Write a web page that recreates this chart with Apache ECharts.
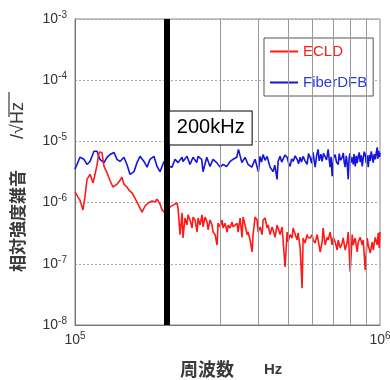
<!DOCTYPE html>
<html><head><meta charset="utf-8">
<script src="https://cdn.jsdelivr.net/npm/echarts@6/dist/echarts.min.js"></script>
<style>html,body{margin:0;padding:0;background:#fff}#c{width:390px;height:380px}</style>
</head><body><div id="c"></div>
<script>
// Frequencies in kHz, values in units of 1e-6 /sqrt(Hz)
const freqBlueK = [100,101.5,103.8,107.0,109.5,112.0,115.4,118.1,120.7,124.5,127.3,130.2,134.2,137.3,140.4,144.7,148.0,151.5,156.1,159.7,163.4,168.3,172.3,176.2,181.5,185.8,190.0,195.8,200,204,208,212.8,217.7,224.4,226,233,238.3,243.8,250.7,253.2,260.2,262.9,270.4,277.2,283.6,291.4,299,305.9,314.5,322.4,329.8,339.2,343.5,352.5,361.1,369.4,380,389.4,399.3,404.4,409,413.7,420,426.4,436.1,446.1,452,459.8,463.3,470.3,476,481.1,488,495.9,502,507.2,513,518.9,527,534.8,541,547,553,559.6,568,576.8,583,590,597,603.6,608,612.8,620,626.8,632,640,646.1,653,660.9,668,676.1,681,686.4,691,696.9,704,712.9,720,729.3,735,742,751.7,758,763,768.9,775,781,786.6,792,798,804,810.8,817,822,829.4,836,842,848.4,855,861,868,874.5,881,888,894.5,901,908,915.1,922,929,936,943.2,950,957,964.8,972,979.5,983,986.9,990,994.3,997,1000];
const valBlue = [3.5,4.2,5.5,5.1,4.2,4.7,6.9,6.9,5.1,4.5,5.5,6.1,6.6,5.1,4.7,5.5,4.2,2.9,3.2,4.5,5.7,4.7,3.8,5.1,5.7,3.9,3.2,4.7,4.2,3.9,3.8,5.1,4.5,5.5,4.7,5.7,4.2,5.5,4.5,5.7,5.1,3.2,5.5,3.9,5.1,4.5,3.8,4.2,3.9,4.7,5.1,5.5,7.4,4.5,5.5,4.2,3.8,5.1,3.2,5.7,4.6,6.1,4.9,5.7,3.8,3.2,4.1,2.4,4.7,5.7,4.6,4.5,6.0,5.5,4.4,3.9,5.2,4.7,5.8,5.1,4.3,5.5,4.6,5.7,4.8,4.2,6.3,5.5,4.4,6.6,4.9,3.8,5.9,7.4,4.8,6.2,4.7,6.4,6.9,5.0,7.4,5.2,3.8,5.6,2.7,5.4,6.1,4.6,4.2,6.3,4.9,5.5,6.5,4.6,3.8,5.8,4.3,2.4,5.3,6.4,4.5,5.5,4.2,6.2,3.9,5.8,4.4,5.7,6.6,4.6,5.9,3.9,5.4,6.8,6.1,4.4,5.9,3.8,6.0,4.8,6.9,6.6,4.5,6.2,5.1,6.5,8.0,5.2,5.5,7.0,7.4,5.6,6.5];
const freqRedK = [100,102.3,103.8,106.2,107.8,109.5,112.0,114.6,116.3,118.1,119.5,120.7,122.6,124.5,125.4,127.3,129.4,130.2,133.2,135.2,137.3,140.4,142.6,144.7,148.0,150.3,154.0,156.1,159.7,162.1,165.9,169.7,173.6,178.9,183.0,185.8,190.0,192.9,195.8,200,204.9,209.6,215.9,217.7,221.0,224.4,226.0,229.5,233.0,234.8,238.3,242.0,243.8,247.5,251.3,253.2,257.0,261.0,262.9,266.9,271.0,273.1,277.2,281.4,283.6,287.9,292.3,294.5,299.0,303.6,305.9,310.5,315.3,317.7,322.4,327.4,329.8,334.8,340.0,342.6,347.7,353.0,355.7,361.1,366.6,369.4,375.0,380.7,383.6,389.4,395.4,398.4,404.4,410.6,413.7,420.0,426.4,429.6,436.1,442.8,446.1,452.9,459.8,463.3,470.3,477.5,481.1,488.4,495.9,499.6,507.2,515.0,518.9,526.7,534.8,538.8,547.0,555.4,559.6,568.1,576.8,581.1,590.0,599.0,603.6,612.8,622.1,626.8,636.4,646.1,651.0,660.9,671.0,676.1,686.4,696.9,702.2,712.9,723.8,729.3,740.4,751.7,757.4,768.9,780.7,786.6,798.6,810.8,816.9,829.4,842.0,848.4,861.3,874.5,881.1,894.5,908.2,915.1,929.0,943.2,950.3,964.8,979.5,986.9,994.3,1000];
const valRed = [1.49,1.23,1.10,0.76,1.23,2.4,2.9,2.1,2.9,4.1,6.2,6.7,6.5,3.9,3.8,3.1,2.5,2.3,1.8,1.73,2.0,2.3,2.6,2.0,1.8,1.6,1.43,1.33,1.02,0.985,0.70,0.88,0.985,1.06,1.02,1.14,0.95,0.76,0.70,0.68,0.85,0.91,0.985,0.82,0.30,0.68,0.264,0.56,0.43,0.63,0.52,0.385,0.58,0.52,0.33,0.56,0.43,0.63,0.40,0.58,0.48,0.36,0.52,0.43,0.33,0.30,0.203,0.46,0.40,0.52,0.385,0.46,0.33,0.43,0.385,0.48,0.40,0.385,0.46,0.33,0.56,0.27,0.58,0.43,0.30,0.33,0.245,0.156,0.30,0.58,0.52,0.33,0.40,0.30,0.52,0.56,0.385,0.43,0.30,0.40,0.36,0.27,0.43,0.385,0.30,0.40,0.43,0.089,0.33,0.227,0.30,0.264,0.385,0.40,0.245,0.32,0.188,0.040,0.264,0.219,0.30,0.27,0.264,0.30,0.245,0.219,0.30,0.245,0.156,0.227,0.385,0.203,0.27,0.245,0.33,0.203,0.27,0.227,0.168,0.245,0.181,0.219,0.264,0.168,0.227,0.33,0.074,0.30,0.203,0.264,0.156,0.227,0.27,0.203,0.245,0.079,0.264,0.203,0.15,0.227,0.168,0.27,0.203,0.32,0.181,0.33];
const gridFreqsK = [200,300,400,500,600,700,800,900];
const markerFreqK = 200;
const markerLabel = '200kHz';
const seriesNames = ['ECLD','FiberDFB'];
const colors = ['#ff1a1a','#1414dc'];

const toData = (fk, v) => fk.map((f,i)=>[f*1e3, v[i]*1e-6]);
const supFmt = v => '{a|10}{b|' + Math.round(Math.log10(v)) + '}';
const rich = {a:{fontSize:14,color:'#333',fontFamily:'Liberation Sans'}, b:{fontSize:10,color:'#333',fontFamily:'Liberation Sans',padding:[0,0,8,0]}};

const chart = echarts.init(document.getElementById('c'), null, {renderer:'canvas'});
chart.setOption({
  animation:false,
  backgroundColor:'#fff',
  grid:{left:75,right:10,top:19,bottom:55,show:true,borderColor:'#888',borderWidth:1,containLabel:false,outerBoundsMode:'none'},
  legend:{left:264,top:38,orient:'vertical',padding:[5,6,5,6],itemGap:14,itemWidth:28,itemHeight:2,icon:'rect',
    borderColor:'#555',borderWidth:1,backgroundColor:'#fff',
    textStyle:{fontSize:15,fontFamily:'Liberation Sans',lineHeight:17},
    data:[{name:seriesNames[0],textStyle:{color:colors[0]}},{name:seriesNames[1],textStyle:{color:'#2a3ae0'}}]},
  xAxis:{type:'log',logBase:10,min:1e5,max:1e6,
    axisLine:{show:true,lineStyle:{color:'#777'}},axisTick:{show:false},
    splitLine:{show:false},
    axisLabel:{formatter:supFmt,rich:rich,margin:6}},
  yAxis:{type:'log',logBase:10,min:1e-8,max:1e-3,
    axisLine:{show:true,lineStyle:{color:'#777'}},axisTick:{show:false},
    splitLine:{show:true,lineStyle:{color:'#aaa',type:[2,2]}},
    axisLabel:{formatter:supFmt,rich:rich,margin:8}},
  series:[
    {name:'grid',type:'line',data:[],z:1,silent:true,
     markLine:{silent:true,symbol:'none',label:{show:false},lineStyle:{color:'#999',type:'solid',width:1},
       data:gridFreqsK.slice(1).map(f=>({xAxis:f*1e3}))}},
    {name:seriesNames[1],type:'line',data:toData(freqBlueK,valBlue),showSymbol:false,symbol:'none',
     lineStyle:{color:colors[1],width:1.6},itemStyle:{color:colors[1]},z:3},
    {name:seriesNames[0],type:'line',data:toData(freqRedK,valRed),showSymbol:false,symbol:'none',
     lineStyle:{color:colors[0],width:1.6},itemStyle:{color:colors[0]},z:3},
    {name:'marker',type:'line',data:[],z:5,silent:true,
     markLine:{silent:true,symbol:'none',label:{show:false},lineStyle:{color:'#000',type:'solid',width:6},
       data:[{xAxis:markerFreqK*1e3}]},
     markPoint:{silent:true,symbol:'rect',symbolSize:0,
       label:{show:true,position:'right',distance:3,formatter:markerLabel,fontSize:20,color:'#000',
         fontFamily:'Liberation Sans',backgroundColor:'#fff',borderColor:'#000',borderWidth:1,padding:[7,7,6,7]},
       data:[{coord:[markerFreqK*1e3,1.66e-5]}]}}
  ],
  graphic:[
    {type:'group',x:18,y:272,rotation:Math.PI/2,children:[
      {type:'text',x:0,y:0,style:{text:'相対強度雑音',font:'bold 17px "Noto Sans CJK JP"',fill:'#3a3a3a',align:'left',verticalAlign:'middle'}},
      {type:'text',x:133,y:0,style:{text:'/√Hz',font:'18px "Liberation Sans"',fill:'#3a3a3a',align:'left',verticalAlign:'middle'}},
      {type:'line',shape:{x1:155,y1:-9,x2:180,y2:-9},style:{stroke:'#3a3a3a',lineWidth:1.2}}
    ]},
    {type:'text',left:180,top:360,style:{text:'周波数',font:'bold 18px "Noto Sans CJK JP"',fill:'#3a3a3a'}},
    {type:'text',left:264,top:362,style:{text:'Hz',font:'bold 15px "Liberation Sans"',fill:'#3a3a3a'}}
  ]
});
</script></body></html>
